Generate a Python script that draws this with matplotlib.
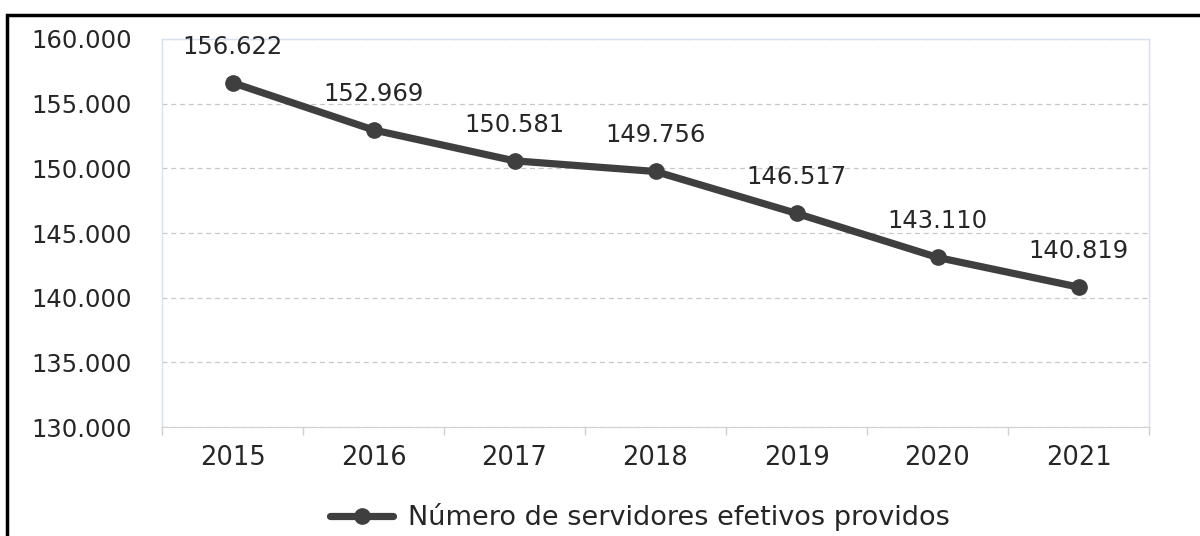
import matplotlib.pyplot as plt
from matplotlib.patches import Rectangle
from matplotlib.ticker import FuncFormatter, FixedLocator

plt.rcParams['font.family'] = ['DejaVu Sans']

years = ['2015', '2016', '2017', '2018', '2019', '2020', '2021']
servidores = [156622, 152969, 150581, 149756, 146517, 143110, 140819]
serie_label = 'Número de servidores efetivos providos'

def fmt_br(v, pos=None):
    return f'{int(round(v)):,}'.replace(',', '.')

fig = plt.figure(figsize=(12, 5.36), dpi=100)
ax = fig.add_axes([162 / 1200, 1 - 427 / 536, (1149 - 162) / 1200, (427 - 39) / 536])

x = list(range(len(years)))
ax.plot(x, servidores, color='#3f3f3f', linewidth=5.2, marker='o', markersize=11,
        solid_capstyle='round', label=serie_label, zorder=3)

for xi, v in zip(x, servidores):
    ax.annotate(fmt_br(v), (xi, v), xytext=(0, 26), textcoords='offset points',
                ha='center', va='center', fontsize=17.5, color='#262626')

ax.set_xlim(-0.5, len(years) - 0.5)
ax.set_ylim(130000, 160000)
ax.set_yticks(range(130000, 160001, 5000))
ax.yaxis.set_major_formatter(FuncFormatter(fmt_br))
ax.set_xticks(x)
ax.set_xticklabels(years)
ax.xaxis.set_minor_locator(FixedLocator([i - 0.5 for i in range(len(years) + 1)]))
ax.tick_params(axis='x', which='major', length=0, pad=13, labelsize=18.5, labelcolor='#262626')
ax.tick_params(axis='x', which='minor', length=6, color='#d0d0d0', width=1)
ax.tick_params(axis='y', length=0, pad=22, labelsize=17.5, labelcolor='#262626')

ax.grid(axis='y', linestyle=(0, (4, 3)), color='#c8c8c8', linewidth=0.9)
for side in ['left', 'top', 'right']:
    ax.spines[side].set_color('#d6e0f0')
    ax.spines[side].set_linewidth(1)
ax.spines['bottom'].set_color('#d0d0d0')

fig.legend(loc='center left', bbox_to_anchor=(306 / 1200, 1 - 517 / 536), frameon=False,
           fontsize=19.5, handlelength=2.3, handletextpad=0.55, labelcolor='#262626')

fig.patches.append(Rectangle((7 / 1200, -0.1), 1.2, 1 - 15 / 536 + 0.1, transform=fig.transFigure,
                             fill=False, edgecolor='black', linewidth=2.5))

fig.savefig('out.png', dpi=100)
